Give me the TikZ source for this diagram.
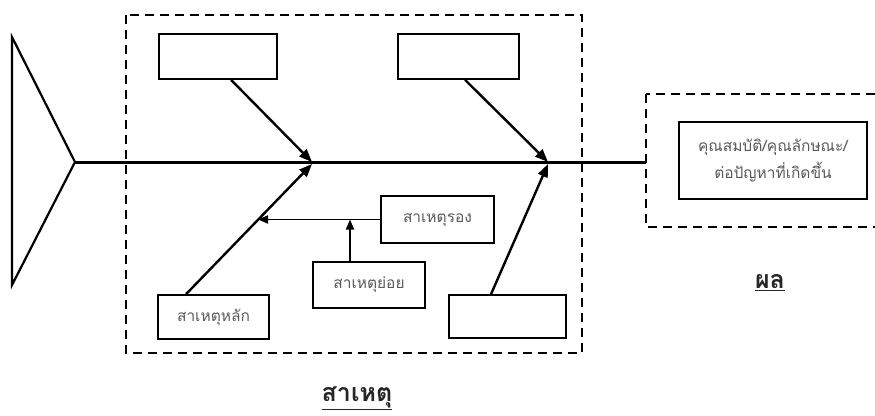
\documentclass[tikz,border=0pt]{standalone}
\usepackage{fontspec}
\newfontfamily\thaifont[Script=Thai]{Loma}
\usetikzlibrary{arrows.meta}

\begin{document}
\begin{tikzpicture}[x=1pt,y=-1pt,
		causebox/.style={draw, line width=1.6pt, inner sep=0pt, align=center,
			font=\thaifont\fontsize{15.5}{27}\selectfont, text=black!65},
		bone/.style={line width=2.4pt, -{Triangle[length=13pt,width=10pt]}},
		twig/.style={line width=1.8pt, -{Triangle[length=10pt,width=8pt]}},
		zone/.style={line width=1.5pt, dash pattern=on 9pt off 6pt},
		caption/.style={font=\thaifont\bfseries\fontsize{25}{28}\selectfont, text=black!85}]
		
	\useasboundingbox (0,0) rectangle (875,415);
	\clip (0,0) rectangle (875,415);
		
		% Dashed zones (cause / effect)
		\draw[zone] (126,15) rectangle (582,353);
		\draw[zone] (646,94) rectangle (890,227);
		
		% Fish head and spine
		\coordinate (headtop) at (12,37);
		\coordinate (headbot) at (12,285);
		\coordinate (head) at (75,162);
		\coordinate (tail) at (646,162);
		\draw[line width=2.2pt, line join=miter] (headtop) -- (head) -- (headbot) -- cycle;
		\draw[line width=3pt] (head) -- (tail);
		
		\coordinate (j1) at (312,162);
		\coordinate (j2) at (548,162);
		
		% Boxes
		\foreach \name/\x/\y/\w/\h/\txt in {
			top1/218/56.5/118/45/{},
			top2/458.5/56.5/121/45/{},
			main/213.5/317/111/44/{สาเหตุหลัก},
			bot2/507.5/316.5/117/43/{},
			sub/437.5/219.5/113/47/{สาเหตุรอง},
			minor/369/285/112/46/{สาเหตุย่อย}} {
			\node[causebox, minimum width=\w pt, minimum height=\h pt] (\name) at (\x,\y) {\txt};
		}
		\node[causebox, minimum width=188pt, minimum height=77pt] (effect) at (773,160.5)
			{คุณสมบัติ/คุณลักษณะ/\\ต่อปัญหาที่เกิดขึ้น};
		
		% Main bones
		\draw[bone] ([xshift=13pt]top1.south) -- (j1);
		\draw[bone] ([xshift=6.5pt]top2.south) -- (j2);
		\draw[bone] ([xshift=-27.5pt]main.north) -- ([yshift=-2pt]j1);
		\draw[bone] ([xshift=-16.5pt]bot2.north) -- ([yshift=-2pt]j2);
		
		% Sub and minor causes
		\coordinate (onbone) at (258,219.5);
		\coordinate (onsub) at (350,219.5);
		\draw[twig] (sub.west) -- (onbone);
		\draw[twig] ([xshift=-19pt]minor.north) -- (onsub);
		
		% Captions
		\node[caption] (cause) at (357,398) {\underline{สาเหตุ}};
		\node[caption] (result) at (770,283) {\underline{ผล}};
		
	\end{tikzpicture}
\end{document}
